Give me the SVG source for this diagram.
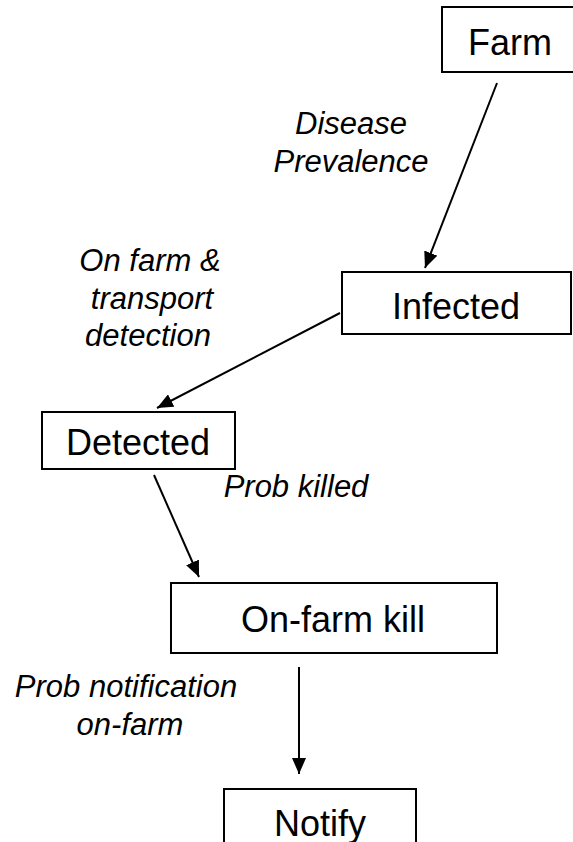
<svg xmlns="http://www.w3.org/2000/svg" width="573" height="842" viewBox="0 0 573 842">
  <style>
    .box { fill: #ffffff; stroke: #000000; stroke-width: 2; }
    .name { font-family: "Liberation Sans", Arial, sans-serif; font-size: 36px; fill: #000000; text-anchor: middle; }
    .lbl { font-family: "Liberation Sans", Arial, sans-serif; font-size: 31px; font-style: italic; fill: #000000; text-anchor: middle; }
    .edge { stroke: #000000; stroke-width: 2; fill: none; marker-end: url(#head); }
  </style>
  <defs>
    <marker id="head" viewBox="0 0 16 14" refX="16" refY="7" markerWidth="16" markerHeight="14" markerUnits="userSpaceOnUse" orient="auto">
      <path d="M0,0 L16,7 L0,14 Z" fill="#000000"/>
    </marker>
  </defs>
  <rect width="573" height="842" fill="#ffffff"/>

  <!-- nodes -->
  <g id="farm">
    <rect class="box" x="442" y="7" width="140" height="65"/>
    <text class="name" x="510" y="55">Farm</text>
  </g>
  <g id="infected">
    <rect class="box" x="342" y="272" width="229" height="62"/>
    <text class="name" x="456" y="319">Infected</text>
  </g>
  <g id="detected">
    <rect class="box" x="42" y="412" width="193" height="57"/>
    <text class="name" x="138" y="455">Detected</text>
  </g>
  <g id="onfarmkill">
    <rect class="box" x="171" y="583" width="326" height="70"/>
    <text class="name" x="333" y="632">On-farm kill</text>
  </g>
  <g id="notify">
    <rect class="box" x="224" y="789" width="192" height="70"/>
    <text class="name" x="320" y="836">Notify</text>
  </g>

  <!-- connectors -->
  <g id="connectors">
    <line class="edge" x1="497" y1="83" x2="425" y2="268"/>
    <line class="edge" x1="340" y1="313" x2="157" y2="408"/>
    <line class="edge" x1="154" y1="475" x2="199" y2="577"/>
    <line class="edge" x1="299" y1="667" x2="299" y2="774"/>
  </g>

  <!-- edge labels -->
  <g id="labels">
    <text class="lbl" x="351" y="134">Disease</text>
    <text class="lbl" x="351" y="172">Prevalence</text>
    <text class="lbl" x="150" y="271">On farm &amp;</text>
    <text class="lbl" x="152" y="309">transport</text>
    <text class="lbl" x="148" y="346">detection</text>
    <text class="lbl" x="296" y="497">Prob killed</text>
    <text class="lbl" x="126" y="697">Prob notification</text>
    <text class="lbl" x="130" y="735">on-farm</text>
  </g>
</svg>
